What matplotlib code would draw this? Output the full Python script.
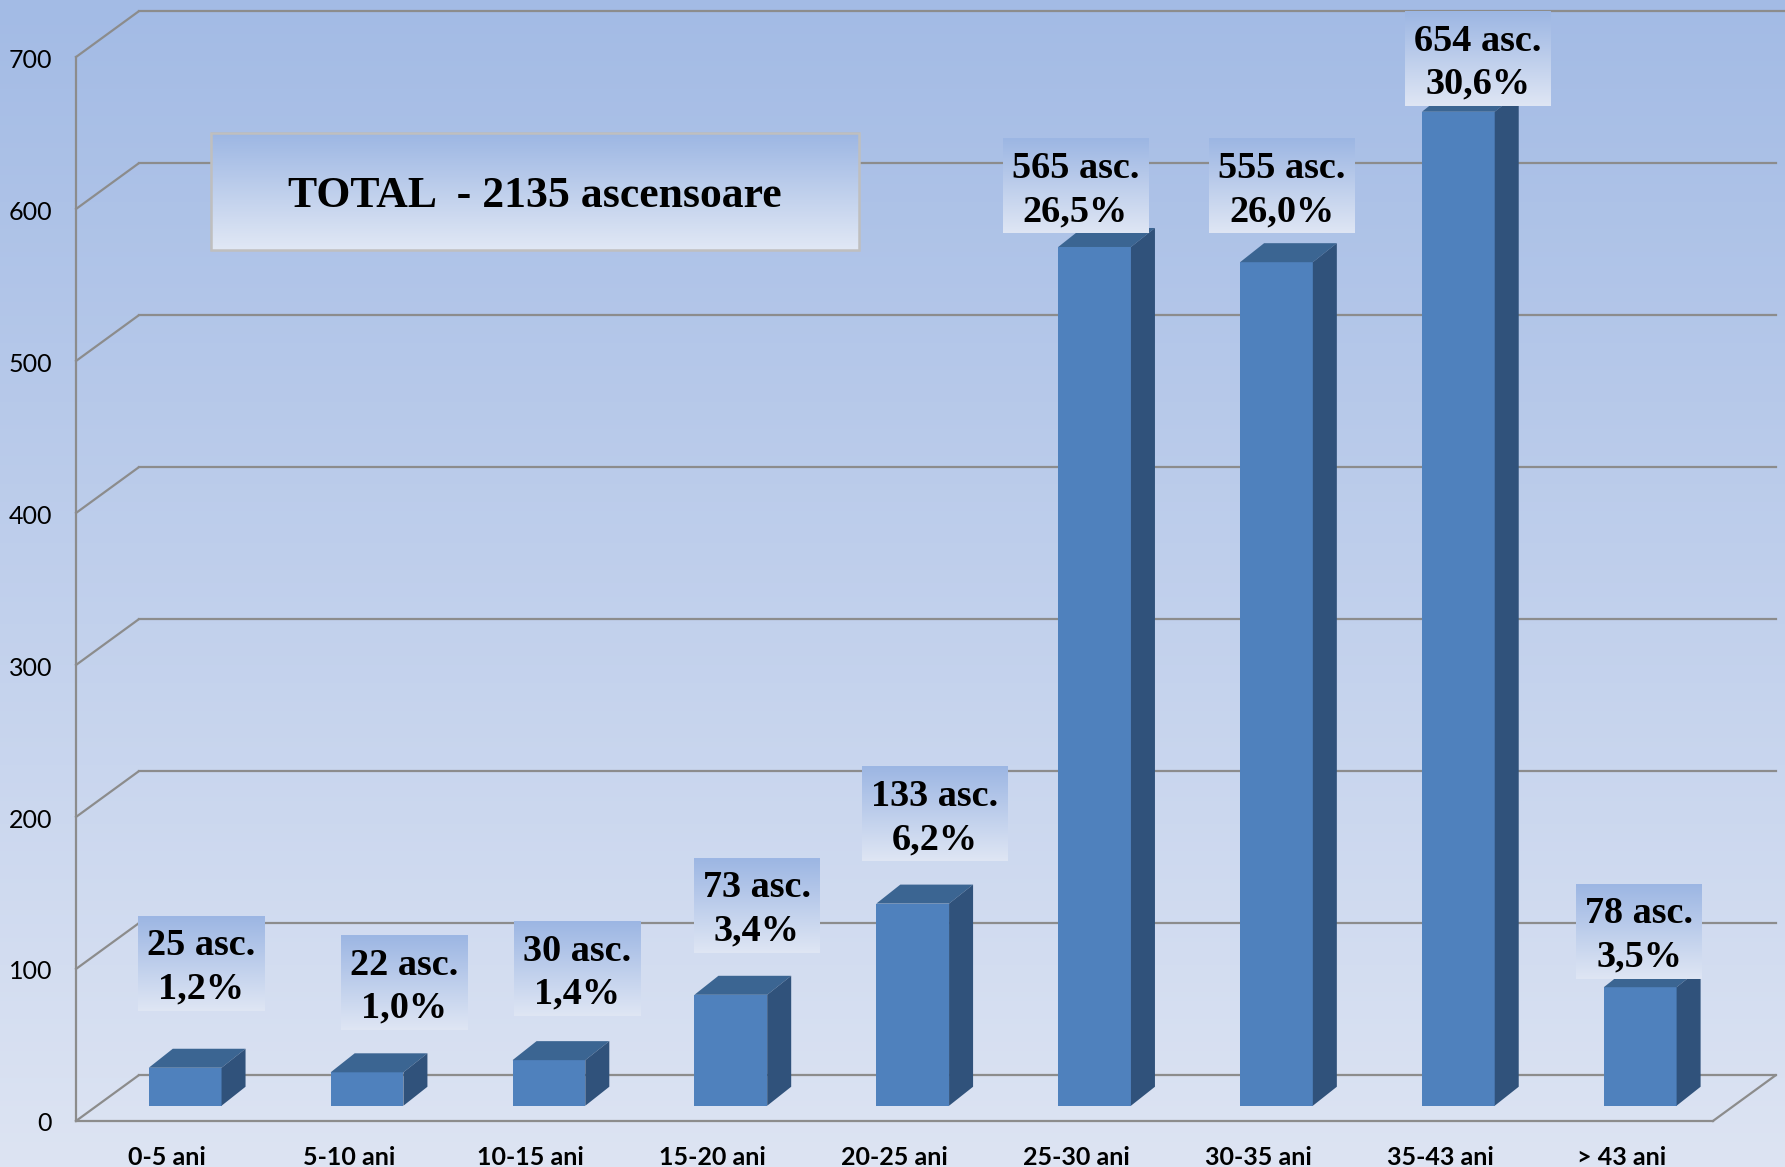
import numpy as np
import matplotlib
matplotlib.use('Agg')
import matplotlib.pyplot as plt
from matplotlib.patches import Polygon, Rectangle
from matplotlib.colors import LinearSegmentedColormap

# ---------------- data ----------------
categories = ['0-5 ani', '5-10 ani', '10-15 ani', '15-20 ani', '20-25 ani',
              '25-30 ani', '30-35 ani', '35-43 ani', '> 43 ani']
counts = [25, 22, 30, 73, 133, 565, 555, 654, 78]
percent_labels = ['1,2%', '1,0%', '1,4%', '3,4%', '6,2%', '26,5%', '26,0%', '30,6%', '3,5%']
y_ticks = [0, 100, 200, 300, 400, 500, 600, 700]
total_text = 'TOTAL  - 2135 ascensoare'

# ---------------- layout / style ----------------
label_dx = [0.088, 0.206, 0.156, 0.144, 0.119, -0.106, 0.031, 0.106, -0.006]
label_gap = [37.6, 27.9, 28.9, 27.8, 27.7, 9.0, 19.0, 3.8, 5.6]
DX, DY = 0.344, 30.0          # depth of the 3D box
BAR_SHIFT_X, BAR_BASE = 0.10, 10.0
BAR_W = 0.40
SDX, SDY = 0.132, 12.5        # bar depth
FRONT, TOP, SIDE = '#4F81BD', '#3B6592', '#30527B'
GRID = '#8C8C8C'

fig = plt.figure(figsize=(17.85, 11.67), dpi=100)
ax = fig.add_axes([0, 0, 1, 1])
XL = (-0.918, 8.896)
YL = (-30.3, 737.5)
ax.set_xlim(*XL)
ax.set_ylim(*YL)
ax.axis('off')


def vgrad(x0, x1, y0, y1, ctop, cbot, z):
    g = np.linspace(0, 1, 256).reshape(-1, 1)
    cmap = LinearSegmentedColormap.from_list('g', [ctop, cbot])
    ax.imshow(g, extent=[x0, x1, y0, y1], origin='upper', cmap=cmap,
              aspect='auto', zorder=z, interpolation='bilinear')


# background
vgrad(XL[0], XL[1], YL[0], YL[1], '#A3BBE5', '#DDE4F3', 0)

n = len(categories)
xmin, xmax = -0.5, n - 0.5

# walls / grid
lw = 1.6
for v in y_ticks:
    ax.plot([xmin, xmin + DX], [v, v + DY], color=GRID, lw=lw, zorder=1)
    xe = XL[1] if v == y_ticks[-1] else xmax + DX
    ax.plot([xmin + DX, xe], [v + DY, v + DY], color=GRID, lw=lw, zorder=1)
ax.plot([xmin, xmin], [0, y_ticks[-1]], color=GRID, lw=lw, zorder=1)
ax.plot([xmin, xmax], [0, 0], color=GRID, lw=lw, zorder=1)
ax.plot([xmax, xmax + DX], [0, DY], color=GRID, lw=lw, zorder=1)

# tick labels
for v in y_ticks:
    ax.text(xmin - 0.132, v - 2, str(v), ha='right', va='center',
            fontsize=18, family='Lato', color='#000000', zorder=2)
for i, c in enumerate(categories):
    ax.text(i, -24, c, ha='center', va='center', fontsize=18,
            family='Lato', fontweight='bold', color='#000000', zorder=2)

# bars
xs = np.arange(n) + BAR_SHIFT_X
ax.bar(xs, counts, width=BAR_W, bottom=BAR_BASE, color=FRONT, zorder=3,
       linewidth=0)
for x, v in zip(xs, counts):
    x0 = x - BAR_W / 2
    x1 = x + BAR_W / 2
    top = BAR_BASE + v
    ax.add_patch(Polygon([(x0, top), (x1, top), (x1 + SDX, top + SDY),
                          (x0 + SDX, top + SDY)], closed=True,
                         facecolor=TOP, edgecolor='none', zorder=3))
    ax.add_patch(Polygon([(x1, BAR_BASE), (x1 + SDX, BAR_BASE + SDY),
                          (x1 + SDX, top + SDY), (x1, top)], closed=True,
                         facecolor=SIDE, edgecolor='none', zorder=3))

# value labels
renderer = fig.canvas.get_renderer()
inv = ax.transData.inverted()
BOX_H = 62.0
PAD_PX = 9
for i, (v, p) in enumerate(zip(counts, percent_labels)):
    cx = xs[i] + label_dx[i]
    y0 = BAR_BASE + v + label_gap[i]
    cy = y0 + BOX_H / 2
    t = ax.text(cx, cy - 2.5, f'{v} asc.\n{p}', ha='center', va='center',
                fontsize=27.5, family='Liberation Serif', fontweight='bold',
                linespacing=1.3, color='black', zorder=6)
    bb = t.get_window_extent(renderer)
    (dx0, _), (dx1, _) = inv.transform([(bb.x0 - PAD_PX, 0), (bb.x1 + PAD_PX, 0)])
    vgrad(dx0, dx1, y0, y0 + BOX_H, '#9CB6E3', '#DFE6F4', 5)

# total box
bx0, bx1, by0, by1 = 0.242, 3.805, 573, 650
vgrad(bx0, bx1, by0, by1, '#9CB6E3', '#E1E8F5', 5)
ax.add_patch(Rectangle((bx0, by0), bx1 - bx0, by1 - by0, facecolor='none',
                       edgecolor='#BFBFBF', lw=1.8, zorder=6))
ax.text((bx0 + bx1) / 2, (by0 + by1) / 2 - 3, total_text, ha='center',
        va='center', fontsize=31.5, family='Liberation Serif',
        fontweight='bold', color='black', zorder=7)

ax.set_xlim(*XL)
ax.set_ylim(*YL)
fig.savefig('out.png', dpi=100)
